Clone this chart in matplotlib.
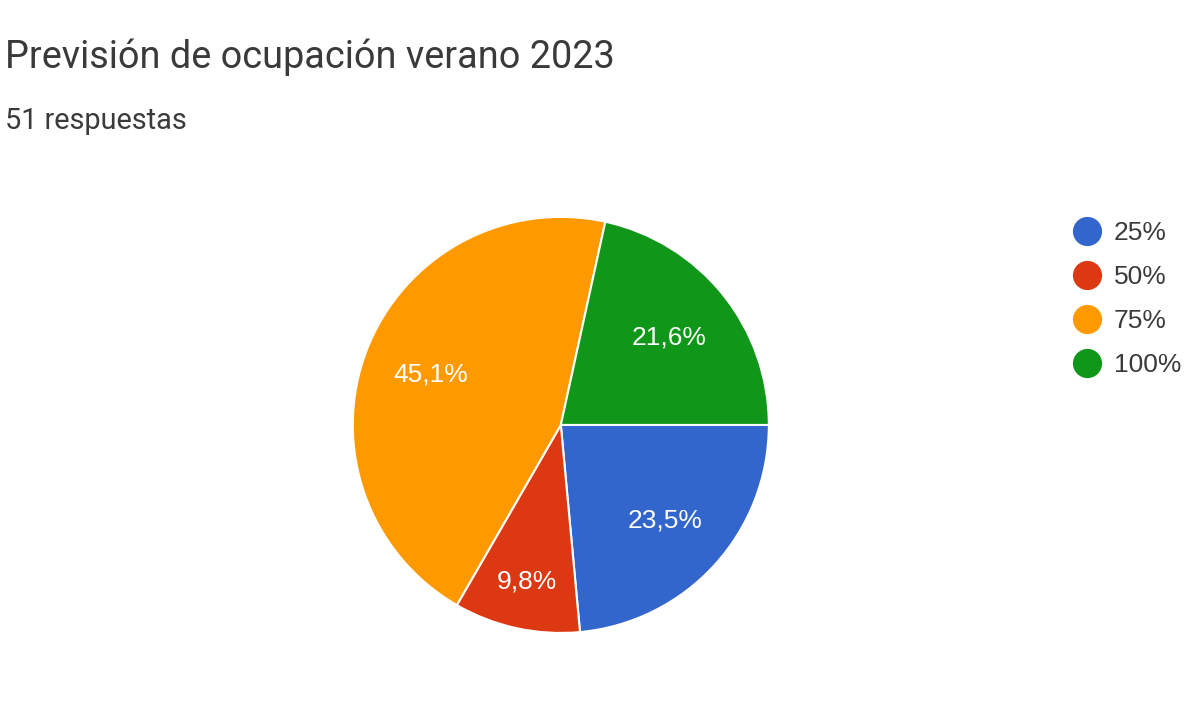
import numpy as np
import matplotlib.pyplot as plt
from matplotlib.lines import Line2D

# respuestas por opción (51 en total)
labels = ["25%", "50%", "75%", "100%"]
counts = [12, 5, 23, 11]
colors = ["#3366cc", "#dc3912", "#ff9900", "#109618"]

title = "Previsión de ocupación verano 2023"
subtitle = "51 respuestas"

# distancia de la etiqueta al centro (las porciones pequeñas van más afuera)
label_dist = [0.68, 0.77, 0.67, 0.67]


def fmt_pct(p):
    return "{:.1f}%".format(p).replace(".", ",")


fig = plt.figure(figsize=(12, 7.04), dpi=100)
fig.patch.set_facecolor("white")

ax = fig.add_axes([0.294, 0.1009, 0.3467, 0.591])
wedges, _, autotexts = ax.pie(counts, colors=colors, startangle=0,
                              counterclock=False, autopct=fmt_pct,
                              pctdistance=0.67,
                              wedgeprops=dict(edgecolor="white", linewidth=1.5))
for w, t, d in zip(wedges, autotexts, label_dist):
    ang = np.deg2rad((w.theta1 + w.theta2) / 2)
    t.set_position((d * np.cos(ang), d * np.sin(ang)))
    t.set_color("white")
    t.set_fontsize(19)
    t.set_fontfamily("Liberation Sans")
ax.set_xlim(-1, 1)
ax.set_ylim(-1, 1)
ax.set_aspect("equal")

fig.text(0.004, 0.918, title, fontsize=27.3, family="Roboto", color="#3a3a3a",
         va="center", ha="left")
fig.text(0.004, 0.828, subtitle, fontsize=20.8, family="Roboto", color="#3a3a3a",
         va="center", ha="left")

handles = [Line2D([], [], marker="o", linestyle="", markersize=20,
                  markerfacecolor=c, markeredgecolor=c) for c in colors]
fig.legend(handles, labels, loc="upper left", bbox_to_anchor=(0.873, 0.72),
           frameon=False, prop=dict(family="Liberation Sans", size=19),
           labelcolor="#3a3a3a", handletextpad=0.4, labelspacing=0.76,
           handlelength=1.2)

fig.savefig("out.png", dpi=100, facecolor="white")
